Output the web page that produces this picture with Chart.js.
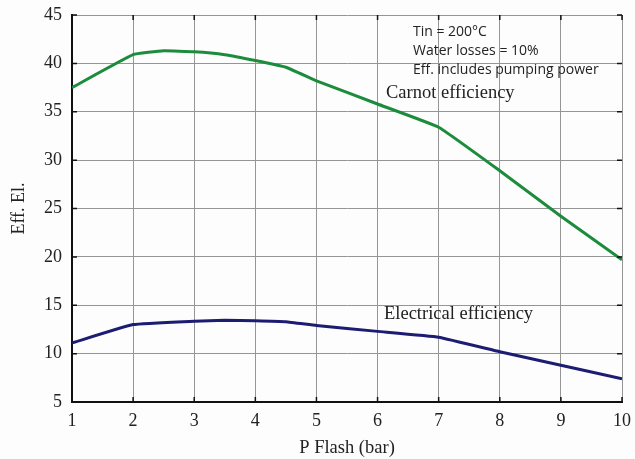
<!DOCTYPE html>
<html>
<head>
<meta charset="utf-8">
<script src="https://cdn.jsdelivr.net/npm/chart.js@4/dist/chart.umd.min.js"></script>
<style>
  html, body { margin: 0; padding: 0; background: #fdfdfd; }
  #wrap { width: 635px; height: 459px; position: relative; }
</style>
</head>
<body>
<div id="wrap"><canvas id="chart"></canvas></div>
<script>
// Datos
const carnotX = [1, 2, 2.5, 3, 3.5, 4, 4.5, 5, 6, 7, 8, 9, 10];
const carnotY = [37.5, 40.9, 41.3, 41.2, 40.9, 40.3, 39.6, 38.2, 35.8, 33.4, 28.9, 24.2, 19.7];
const electricX = [1, 2, 3, 3.5, 4, 4.5, 5, 6, 7, 8, 9, 10];
const electricY = [11.1, 13.0, 13.35, 13.45, 13.4, 13.3, 12.9, 12.3, 11.7, 10.2, 8.8, 7.4];
const xTicks = [1, 2, 3, 4, 5, 6, 7, 8, 9, 10];
const yTicks = [5, 10, 15, 20, 25, 30, 35, 40, 45];
const notes = ['Tin = 200°C', 'Water losses = 10%', 'Eff. includes pumping power'];

const serif = '"Liberation Serif", "DejaVu Serif", serif';
const sans = '"Open Sans", "Liberation Sans", sans-serif';

// Textos y marcas interiores dibujados sobre el gráfico
const extrasPlugin = {
    id: 'extras',
    afterDraw(chart) {
        const ctx = chart.ctx;
        const a = chart.chartArea;
        const xs = chart.scales.x, ys = chart.scales.y;
        ctx.save();
        // marcas interiores del eje
        ctx.strokeStyle = '#111';
        ctx.lineWidth = 1.5;
        ctx.beginPath();
        yTicks.forEach(v => {
            const y = ys.getPixelForValue(v);
            ctx.moveTo(a.left, y); ctx.lineTo(a.left + 5, y);
            ctx.moveTo(a.right, y); ctx.lineTo(a.right - 5, y);
        });
        xTicks.forEach(v => {
            const x = xs.getPixelForValue(v);
            ctx.moveTo(x, a.top); ctx.lineTo(x, a.top + 5);
            ctx.moveTo(x, a.bottom); ctx.lineTo(x, a.bottom - 5);
        });
        ctx.stroke();

        ctx.fillStyle = '#222';
        ctx.textBaseline = 'middle';
        ctx.font = '14px ' + sans;
        notes.forEach((t, i) => ctx.fillText(t, 413, 32 + i * 19));
        ctx.font = '18.5px ' + serif;
        ctx.fillText('Carnot efficiency', 386, 93);
        ctx.fillText('Electrical efficiency', 384, 314);
        ctx.restore();
    }
};

new Chart(document.getElementById('chart'), {
    type: 'line',
    data: {
        datasets: [{
            label: 'Carnot efficiency',
            data: carnotX.map((x, i) => ({ x: x, y: carnotY[i] })),
            borderColor: '#1c8c3c',
            borderWidth: 3,
            pointRadius: 0,
            tension: 0.1
        }, {
            label: 'Electrical efficiency',
            data: electricX.map((x, i) => ({ x: x, y: electricY[i] })),
            borderColor: '#1c1c72',
            borderWidth: 3,
            pointRadius: 0,
            tension: 0.1
        }]
    },
    options: {
        responsive: true,
        maintainAspectRatio: false,
        animation: false,
        layout: { padding: { top: 15, right: 13, left: 4, bottom: 0 } },
        plugins: {
            legend: { display: false },
            tooltip: { enabled: false }
        },
        scales: {
            x: {
                type: 'linear',
                min: 1, max: 10,
                afterBuildTicks: s => { s.ticks = xTicks.map(v => ({ value: v })); },
                afterFit: s => { s.height = 57; s.paddingLeft = 0; s.paddingRight = 0; },
                grid: { color: '#959595', lineWidth: 1, drawTicks: false },
                border: { color: '#111', width: 2 },
                ticks: { color: '#222', font: { family: serif, size: 18 }, padding: 8 },
                title: { display: true, text: 'P Flash (bar)', color: '#222',
                         font: { family: serif, size: 18.5 }, padding: { top: 2, bottom: 0 } }
            },
            y: {
                min: 5, max: 45,
                afterBuildTicks: s => { s.ticks = yTicks.map(v => ({ value: v })); },
                afterFit: s => { s.width = 68; s.paddingTop = 0; s.paddingBottom = 0; },
                grid: { color: '#959595', lineWidth: 1, drawTicks: false },
                border: { color: '#111', width: 2 },
                ticks: { color: '#222', font: { family: serif, size: 18 }, padding: 10 },
                title: { display: true, text: 'Eff. El.', color: '#222',
                         font: { family: serif, size: 18 }, padding: { top: 4, bottom: 4 } }
            }
        }
    },
    plugins: [extrasPlugin]
});
</script>
</body>
</html>
